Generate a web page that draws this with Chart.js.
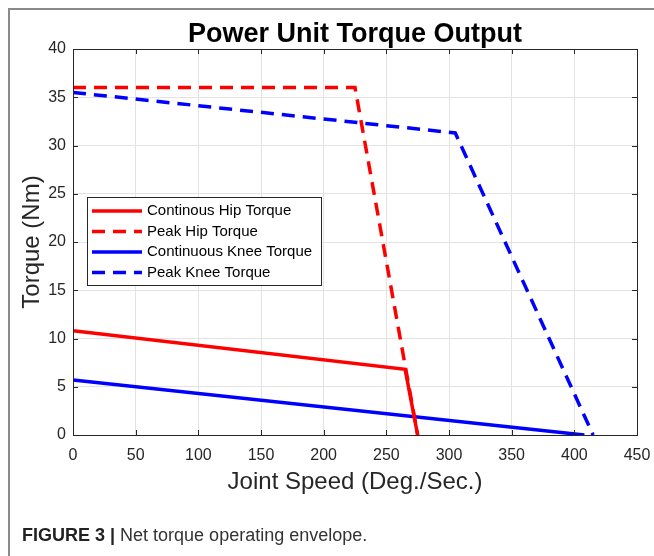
<!DOCTYPE html>
<html>
<head>
<meta charset="utf-8">
<script src="https://cdn.jsdelivr.net/npm/chart.js@4"></script>
<style>
  html, body { margin: 0; padding: 0; background: #fff; }
  #wrap { position: relative; width: 654px; height: 556px; overflow: hidden; }
  #frame { position: absolute; left: 8px; top: 8px; width: 660px; height: 560px;
           border-left: 2px solid #8a8a8a; border-top: 2px solid #8a8a8a; box-sizing: border-box; }
  #caption { position: absolute; left: 22px; top: 525px; font: 18px "Liberation Sans", Arial, sans-serif; color: #333; }
  #caption b { color: #222; }
  canvas { position: absolute; left: 0; top: 0; }
</style>
</head>
<body>
<div id="wrap">
  <div id="frame"></div>
  <canvas id="grafico" width="654" height="556"></canvas>
  <div id="caption"><b>FIGURE 3 |</b> Net torque operating envelope.</div>
</div>
<script>
// datos
const hipContX = [0, 265, 275];
const hipContY = [10.8, 6.8, 0];
const hipPeakX = [0, 225, 275];
const hipPeakY = [36, 36, 0];
const kneeContX = [0, 408];
const kneeContY = [5.7, 0];
const kneePeakX = [0, 305, 415];
const kneePeakY = [35.5, 31.3, 0];
const etiquetas = ["Continous Hip Torque", "Peak Hip Torque", "Continuous Knee Torque", "Peak Knee Torque"];

const pts = (xs, ys) => xs.map((x, i) => ({ x, y: ys[i] }));
const FONT = '"Liberation Sans", Arial, sans-serif';
const DARK = "#262626";

const serie = (label, data, color, dashed) => ({
  label, data,
  borderColor: color,
  backgroundColor: color,
  borderWidth: 3.5,
  borderDash: dashed ? [13, 8] : [],
  pointRadius: 0,
  tension: 0,
  fill: false
});

// titulo, caja, ticks interiores y leyenda
const extras = {
  id: "extras",
  afterDraw(chart) {
    const { ctx, chartArea: a, scales } = chart;
    ctx.save();
    ctx.strokeStyle = DARK;
    ctx.lineWidth = 1;
    ctx.setLineDash([]);
    scales.x.ticks.forEach(t => {
      const px = Math.round(scales.x.getPixelForValue(t.value)) + 0.5;
      ctx.beginPath();
      ctx.moveTo(px, a.bottom); ctx.lineTo(px, a.bottom - 5);
      ctx.moveTo(px, a.top); ctx.lineTo(px, a.top + 5);
      ctx.stroke();
    });
    scales.y.ticks.forEach(t => {
      const py = Math.round(scales.y.getPixelForValue(t.value)) + 0.5;
      ctx.beginPath();
      ctx.moveTo(a.left, py); ctx.lineTo(a.left + 5, py);
      ctx.moveTo(a.right, py); ctx.lineTo(a.right - 5, py);
      ctx.stroke();
    });
    ctx.strokeRect(a.left + 0.5, a.top + 0.5, a.right - a.left, a.bottom - a.top);

    // titulo
    ctx.fillStyle = "#000";
    ctx.font = "bold 27px " + FONT;
    ctx.textAlign = "center";
    ctx.textBaseline = "alphabetic";
    ctx.fillText("Power Unit Torque Output", (a.left + a.right) / 2, 42);

    // leyenda
    const bx = 87, by = 197, bw = 234, bh = 88;
    ctx.fillStyle = "#fff";
    ctx.fillRect(bx, by, bw, bh);
    ctx.strokeStyle = DARK;
    ctx.lineWidth = 1;
    ctx.strokeRect(bx + 0.5, by + 0.5, bw, bh);
    ctx.font = "15px " + FONT;
    ctx.textAlign = "left";
    ctx.textBaseline = "middle";
    chart.data.datasets.forEach((d, i) => {
      const yy = 211 + i * 20.5;
      ctx.strokeStyle = d.borderColor;
      ctx.lineWidth = 3.5;
      ctx.setLineDash(d.borderDash);
      ctx.beginPath();
      ctx.moveTo(92, yy); ctx.lineTo(142, yy);
      ctx.stroke();
      ctx.setLineDash([]);
      ctx.fillStyle = "#000";
      ctx.fillText(d.label, 147, yy);
    });
    ctx.restore();
  }
};

new Chart(document.getElementById("grafico"), {
  type: "line",
  data: {
    datasets: [
      serie(etiquetas[0], pts(hipContX, hipContY), "#ff0000", false),
      serie(etiquetas[1], pts(hipPeakX, hipPeakY), "#ff0000", true),
      serie(etiquetas[2], pts(kneeContX, kneeContY), "#0000ff", false),
      serie(etiquetas[3], pts(kneePeakX, kneePeakY), "#0000ff", true)
    ]
  },
  options: {
    responsive: false,
    animation: false,
    layout: { padding: { left: 14, top: 49, right: 17, bottom: 55 } },
    plugins: { legend: { display: false }, title: { display: false }, tooltip: { enabled: false } },
    scales: {
      x: {
        type: "linear",
        min: 0, max: 450,
        ticks: { stepSize: 50, color: DARK, font: { family: FONT, size: 16 }, padding: 11, maxRotation: 0 },
        grid: { color: "#e3e3e3", drawTicks: false },
        border: { display: false },
        title: { display: true, text: "Joint Speed (Deg./Sec.)", color: DARK, font: { family: FONT, size: 24 } },
        afterFit(s) { s.height = 66; s.paddingLeft = 0; s.paddingRight = 0; }
      },
      y: {
        min: 0, max: 40,
        ticks: { stepSize: 5, color: DARK, font: { family: FONT, size: 16 }, padding: 7 },
        grid: { color: "#e3e3e3", drawTicks: false },
        border: { display: false },
        title: { display: true, text: "Torque (Nm)", color: DARK, font: { family: FONT, size: 24 } },
        afterFit(s) { s.width = 59; s.paddingTop = 0; s.paddingBottom = 0; }
      }
    }
  },
  plugins: [extras]
});
</script>
</body>
</html>
